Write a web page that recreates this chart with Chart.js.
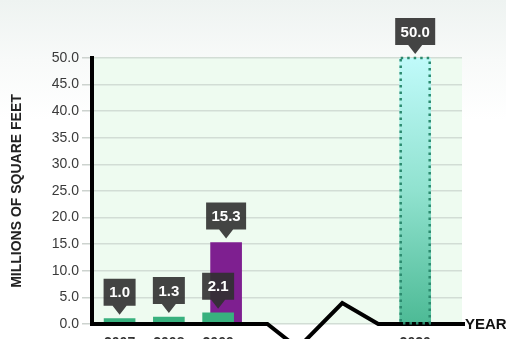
<!DOCTYPE html>
<html>
<head>
<meta charset="utf-8">
<script src="https://cdn.jsdelivr.net/npm/chart.js@4.4.1/dist/chart.umd.min.js"></script>
<style>
  html, body { margin: 0; padding: 0; }
  body {
    width: 506px; height: 339px; overflow: hidden;
    background: linear-gradient(to bottom, #eef3f1 0px, #f8faf9 60px, #ffffff 120px);
  }
  canvas { display: block; }
</style>
</head>
<body>
<canvas id="chart" width="506" height="339"></canvas>
<script>
// Year slots (blank slots are the compressed gap before the projection)
const years = ["2007", "2008", "2009", "", "", "", "2020"];
const installed = [1.0, 1.3, 2.1, null, null, null, null];
const pipeline = [null, null, 15.3, null, null, null, null];
const projected = [null, null, null, null, null, null, 50.0];
const yTickValues = [0, 5, 10, 15, 20, 25, 30, 35, 40, 45, 50];

const FONT = "'Liberation Sans', Arial, sans-serif";

function points(arr) {
  return arr.map((v, i) => (v === null ? null : { x: i, y: v })).filter(p => p);
}

const X_MIN = -0.56, X_MAX = 6.95, SHIFT = 0.162;

// plot background
const bgPlugin = {
  id: "bg",
  beforeDraw(chart) {
    const { ctx, chartArea: a } = chart;
    ctx.save();
    ctx.fillStyle = "#eefbf0";
    ctx.fillRect(a.left, a.top, a.right - a.left, a.bottom - a.top);
    ctx.restore();
  },
};

// broken x axis line + "YEAR"
const axisPlugin = {
  id: "brokenAxis",
  afterDatasetsDraw(chart) {
    const { ctx, chartArea: a, scales } = chart;
    const x = scales.x;
    const y0 = scales.y.getPixelForValue(0);
    ctx.save();
    ctx.strokeStyle = "#000";
    ctx.lineWidth = 4;
    ctx.lineJoin = "miter";
    ctx.beginPath();
    ctx.moveTo(a.left - 2, y0);
    ctx.lineTo(x.getPixelForValue(3.0), y0);
    ctx.lineTo(x.getPixelForValue(3.62), y0 + 24);
    ctx.lineTo(x.getPixelForValue(4.52), y0 - 21);
    ctx.lineTo(x.getPixelForValue(5.25), y0);
    ctx.lineTo(a.right + 3, y0);
    ctx.stroke();
    ctx.fillStyle = "#111";
    ctx.font = "bold 15px " + FONT;
    ctx.textBaseline = "middle";
    ctx.textAlign = "left";
    ctx.fillText("YEAR", a.right + 3, y0 + 1);
    ctx.restore();
  },
};

// dotted outline on the projection bar and value callouts
function callout(ctx, cx, tipY, text) {
  ctx.font = "bold 15px " + FONT;
  const w = Math.round(ctx.measureText(text).width) + 11;
  const h = 27, ah = 9, aw = 7;
  const bottom = tipY - ah, top = bottom - h;
  ctx.fillStyle = "rgba(48,48,48,0.9)";
  ctx.beginPath();
  ctx.moveTo(cx - w / 2, top);
  ctx.lineTo(cx + w / 2, top);
  ctx.lineTo(cx + w / 2, bottom);
  ctx.lineTo(cx + aw, bottom);
  ctx.lineTo(cx, tipY);
  ctx.lineTo(cx - aw, bottom);
  ctx.lineTo(cx - w / 2, bottom);
  ctx.closePath();
  ctx.fill();
  ctx.fillStyle = "#fff";
  ctx.textAlign = "center";
  ctx.textBaseline = "middle";
  ctx.fillText(text, cx, top + h / 2 + 1);
}

const labelPlugin = {
  id: "callouts",
  afterDatasetsDraw(chart) {
    const { ctx } = chart;
    ctx.save();
    // dotted border for projection
    chart.getDatasetMeta(2).data.forEach(el => {
      const half = el.width / 2;
      ctx.strokeStyle = "#2b8a6e";
      ctx.lineWidth = 2.5;
      ctx.setLineDash([2.5, 4]);
      ctx.strokeRect(el.x - half + 1, el.y, el.width - 2, el.base - el.y);
    });
    ctx.setLineDash([]);
    [1, 2, 0].forEach(di => {
      const ds = chart.data.datasets[di];
      chart.getDatasetMeta(di).data.forEach((el, i) => {
        callout(ctx, el.x, el.y - 4, ds.data[i].y.toFixed(1));
      });
    });
    ctx.restore();
  },
};

new Chart(document.getElementById("chart"), {
  type: "bar",
  data: {
    datasets: [
      {
        label: "Installed",
        data: points(installed),
        backgroundColor: "#38b17e",
        barThickness: 31,
        grouped: false,
        order: 1,
        xAxisID: "x",
      },
      {
        label: "Pipeline",
        data: points(pipeline),
        backgroundColor: "#7e1f90",
        barThickness: 31,
        grouped: false,
        order: 2,
        xAxisID: "x2",
      },
      {
        label: "Projected",
        data: points(projected),
        backgroundColor: (c) => {
          const a = c.chart.chartArea;
          if (!a) return "#7fd8c0";
          const g = c.chart.ctx.createLinearGradient(0, a.top, 0, a.bottom);
          g.addColorStop(0, "#c0fafa");
          g.addColorStop(0.5, "#90e2cf");
          g.addColorStop(1, "#4dba95");
          return g;
        },
        barThickness: 31,
        grouped: false,
        order: 3,
        xAxisID: "x",
      },
    ],
  },
  options: {
    responsive: false,
    animation: false,
    devicePixelRatio: 1,
    layout: { padding: { top: 58, right: 44, left: 0, bottom: 0 } },
    plugins: { legend: { display: false }, tooltip: { enabled: false } },
    scales: {
      x: {
        type: "linear",
        min: X_MIN,
        max: X_MAX,
        offset: false,
        grid: { display: false },
        border: { display: false },
        afterBuildTicks: (s) => { s.ticks = years.map((_, i) => ({ value: i })); },
        afterFit: (s) => { s.height = 15; },
        ticks: {
          padding: 3,
          color: "#333",
          autoSkip: false,
          maxRotation: 0,
          font: { family: FONT, size: 14, weight: "bold" },
          callback: (v) => years[v] || "",
        },
      },
      x2: {
        type: "linear",
        display: false,
        offset: false,
        min: X_MIN - SHIFT,
        max: X_MAX - SHIFT,
      },
      y: {
        min: 0,
        max: 50,
        afterBuildTicks: (s) => { s.ticks = yTickValues.map(v => ({ value: v })); },
        afterFit: (s) => { s.width = 92; },
        ticks: {
          padding: 3,
          color: "#3a3a3a",
          font: { family: FONT, size: 14 },
          callback: (v) => v.toFixed(1),
        },
        grid: { color: "#d2ddd5", lineWidth: 1.5, tickLength: 10, tickColor: "#cdd3cf" },
        border: { color: "#000", width: 4 },
        title: {
          display: true,
          text: "MILLIONS OF SQUARE FEET",
          color: "#222",
          font: { family: FONT, size: 14, weight: "bold" },
          padding: { top: 9, bottom: 0 },
        },
      },
    },
  },
  plugins: [bgPlugin, axisPlugin, labelPlugin],
});
</script>
</body>
</html>
